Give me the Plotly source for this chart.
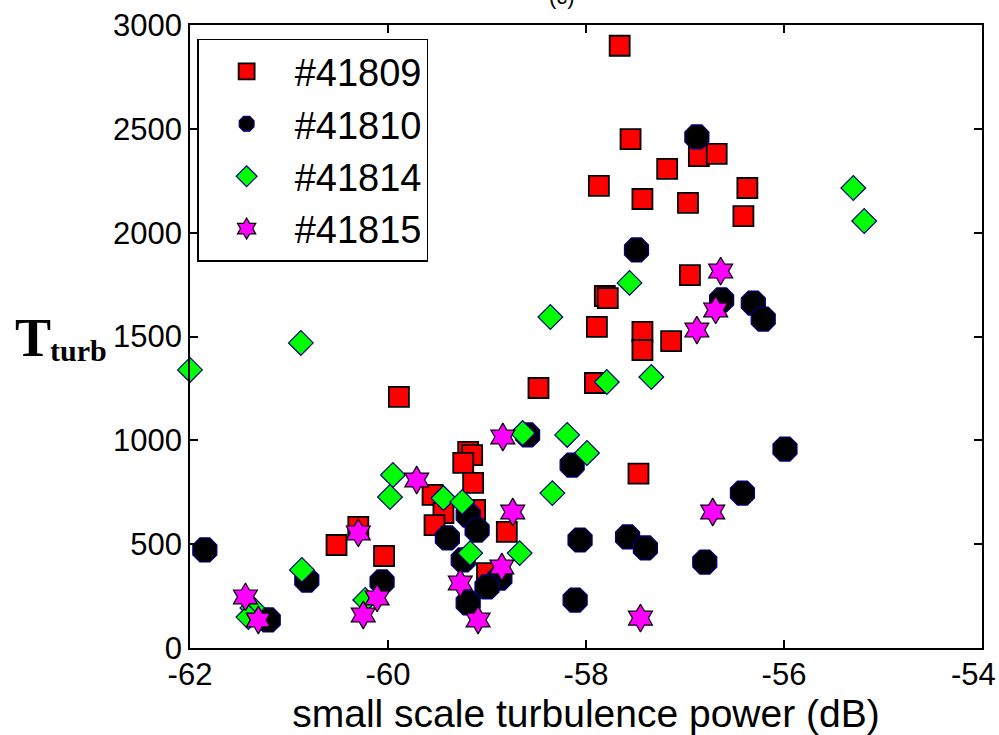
import plotly.graph_objects as go

# ---------------- data ----------------
series_names = ["#41809", "#41810", "#41814", "#41815"]

x_41809 = [-57.66, -57.55, -57.18, -57.87, -57.43, -56.97, -56.86, -56.68, -56.37, -56.41,
           -56.95, -57.81, -57.78, -57.89, -57.43, -57.43, -57.14, -57.91, -58.48, -59.89,
           -57.47, -59.19, -59.15, -59.24, -59.14, -59.55, -59.44, -59.53, -59.12, -58.80,
           -59.00, -60.52, -60.30, -60.04]
y_41809 = [2900, 2450, 2307, 2225, 2162, 2143, 2369, 2379, 2215, 2080,
           1796, 1695, 1685, 1546, 1522, 1435, 1478, 1276, 1252, 1209,
           840, 944, 929, 891, 795, 737, 650, 592, 665, 559,
           361, 496, 583, 443]

x_41810 = [-56.88, -57.49, -56.63, -56.31, -56.21, -55.99, -56.42, -56.80, -57.58, -57.40,
           -58.06, -58.11, -58.14, -58.59, -59.19, -59.10, -59.40, -59.24, -58.87, -59.00,
           -59.19, -60.06, -60.82, -61.21, -61.85]
y_41810 = [2461, 1917, 1676, 1661, 1584, 958, 746, 414, 535, 482,
           520, 231, 881, 1026, 640, 568, 530, 424, 337, 294,
           217, 318, 327, 135, 472]

x_41814 = [-55.30, -55.19, -57.56, -58.36, -60.88, -62.00, -57.79, -57.34, -58.19, -57.99,
           -58.64, -58.34, -58.67, -59.17, -59.95, -59.98, -59.44, -59.25, -60.87, -60.23,
           -61.37, -61.41]
y_41814 = [2215, 2056, 1758, 1594, 1469, 1339, 1281, 1305, 1026, 939,
           1035, 746, 457, 457, 833, 727, 722, 703, 376, 231,
           193, 149]

x_41815 = [-56.64, -56.69, -56.88, -56.72, -57.45, -58.84, -58.74, -58.85, -59.09, -59.27,
           -59.71, -60.30, -60.11, -60.25, -61.44, -61.31]
y_41815 = [1815, 1628, 1531, 655, 144, 1016, 655, 390, 135, 313,
           809, 554, 241, 159, 246, 135]

x_ticks = [-62, -60, -58, -56, -54]
x_tick_labels = ["-62", "-60", "-58", "-56", "-54\u00a0\u00a0"]
y_ticks = [0, 500, 1000, 1500, 2000, 2500, 3000]
y_tick_labels = ["0", "500", "1000", "1500", "2000", "2500", "3000"]

x_title = "small scale turbulence power (dB)"
y_title_main = "<b>T</b>"
y_title_sub = "<b>turb</b>"
panel_label = "(c)"

# ---------------- figure ----------------
styles = [
    dict(symbol="square", size=20, color="#ff0000", line=dict(color="#000000", width=1.8)),
    dict(symbol="octagon", size=26, color="#000000", line=dict(color="#000080", width=1.2)),
    dict(symbol="diamond", size=19, color="#00ff00", line=dict(color="#000080", width=1.2)),
    dict(symbol="hexagram", size=21, color="#ff00ff", line=dict(color="#000000", width=1.2)),
]
xs = [x_41809, x_41810, x_41814, x_41815]
ys = [y_41809, y_41810, y_41814, y_41815]

fig = go.Figure()
for name, x, y, st in zip(series_names, xs, ys, styles):
    fig.add_trace(go.Scatter(
        x=x, y=y, mode="markers", name=name, legendgroup=name,
        marker=st, cliponaxis=False,
    ))

axis_common = dict(
    showline=True, linecolor="black", linewidth=1.5, mirror="ticks",
    ticks="inside", ticklen=8, tickwidth=1.5, tickcolor="black",
    showgrid=False, zeroline=False, automargin=False,
    ticklabeloverflow="allow",
    tickfont=dict(family="Liberation Sans, Arial", size=31, color="black"),
)

fig.update_xaxes(range=[-62, -54], tickvals=x_ticks, ticktext=x_tick_labels,
                 ticklabelstandoff=-2,
                 title=dict(text=x_title, font=dict(family="Liberation Sans, Arial", size=39, color="black"),
                            standoff=2),
                 **axis_common)
fig.update_yaxes(range=[0, 3000], tickvals=y_ticks, ticktext=y_tick_labels, **axis_common)

fig.add_annotation(text=y_title_main, xref="paper", yref="paper", x=-0.2235, y=0.498,
                   xanchor="left", yanchor="middle", showarrow=False,
                   font=dict(family="Liberation Serif, Times New Roman", size=54, color="black"))
fig.add_annotation(text=y_title_sub, xref="paper", yref="paper", x=-0.1790, y=0.478,
                   xanchor="left", yanchor="middle", showarrow=False,
                   font=dict(family="Liberation Serif, Times New Roman", size=30, color="black"))
fig.add_annotation(text=panel_label, xref="paper", yref="paper", x=0.47, y=1.045,
                   xanchor="center", yanchor="middle", showarrow=False,
                   font=dict(family="Liberation Sans, Arial", size=22, color="black"))

fig.update_layout(
    width=999, height=735,
    margin=dict(l=190, r=17, t=25, b=87, autoexpand=False),
    paper_bgcolor="white", plot_bgcolor="white",
    showlegend=True,
    legend=dict(x=0.009, y=0.978, xanchor="left", yanchor="top",
                bordercolor="black", borderwidth=1.5, bgcolor="white",
                font=dict(family="Liberation Sans, Arial", size=38, color="black"),
                traceorder="grouped", tracegroupgap=0, itemsizing="trace", itemwidth=86),
)

fig.write_html("out.html")
